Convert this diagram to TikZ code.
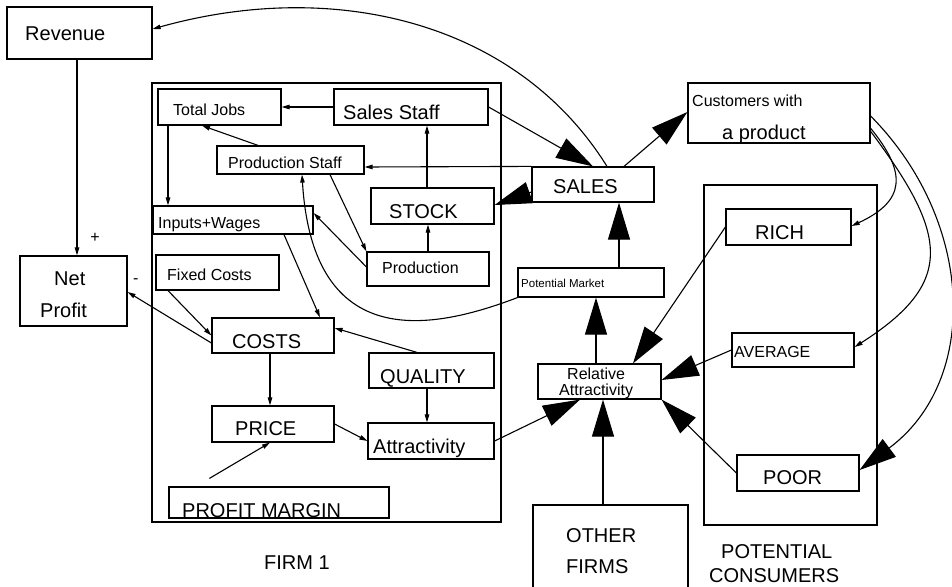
\documentclass[tikz,border=0pt]{standalone}
\usepackage{fontspec}
\setmainfont{Liberation Sans}
\usetikzlibrary{arrows.meta,calc}
\begin{document}
\begin{tikzpicture}[x=1pt,y=-1pt,
  box/.style={draw, line width=1.2pt, inner sep=0pt},
  big/.style={font=\fontsize{20}{24}\selectfont, anchor=base west, inner sep=0pt},
  mid/.style={font=\fontsize{16}{19}\selectfont, anchor=base west, inner sep=0pt},
  tiny/.style={font=\fontsize{11.5}{14}\selectfont, anchor=base west, inner sep=0pt},
  link/.style={line width=1.1pt, -{Triangle[length=8pt,width=4.5pt]}},
  flow/.style={line width=1.1pt, -{Triangle[length=37pt,width=22pt]}},
]
\useasboundingbox (0,0) rectangle (952,586);

% ---------- boxes ----------
\node[box, minimum width=145pt, minimum height=52pt] (rev)   at (79.5,33)   {};
\node[box, minimum width=107pt, minimum height=70pt] (np)    at (73.5,291)  {};
\node[box, minimum width=349pt, minimum height=439pt] (firm) at (326.5,302.5) {};
\node[box, minimum width=123pt, minimum height=36pt] (tj)    at (219.5,107) {};
\node[box, minimum width=154pt, minimum height=36pt] (ss)    at (411,107)   {};
\node[box, minimum width=147pt, minimum height=28pt] (ps)    at (290.5,160) {};
\node[box, minimum width=160pt, minimum height=28pt] (iw)    at (233,220)   {};
\node[box, minimum width=123pt, minimum height=36pt] (stock) at (432.5,206) {};
\node[box, minimum width=122pt, minimum height=34pt] (prod)  at (428,269)   {};
\node[box, minimum width=123pt, minimum height=35pt] (fc)    at (217.5,272.5) {};
\node[box, minimum width=122pt, minimum height=35pt] (costs) at (273,335.5) {};
\node[box, minimum width=125pt, minimum height=35pt] (qual)  at (431.5,370.5) {};
\node[box, minimum width=126pt, minimum height=36pt] (attr)  at (431,441)   {};
\node[box, minimum width=122pt, minimum height=36pt] (price) at (273,424)   {};
\node[box, minimum width=220pt, minimum height=31pt] (pm)    at (279,502.5) {};
\node[box, minimum width=122pt, minimum height=35pt] (sales) at (593,184.5) {};
\node[box, minimum width=182pt, minimum height=60pt] (cust)  at (779,113)   {};
\node[box, minimum width=146pt, minimum height=29pt] (potm)  at (591,282.5) {};
\node[box, minimum width=173pt, minimum height=340pt] (pc)   at (790.5,355) {};
\node[box, minimum width=125pt, minimum height=36pt] (rich)  at (788.5,227) {};
\node[box, minimum width=122pt, minimum height=34pt] (avg)   at (793,350)   {};
\node[box, minimum width=122pt, minimum height=36pt] (poor)  at (798,473)   {};
\node[box, minimum width=123pt, minimum height=35pt] (ra)    at (599.5,381.5) {};
\node[box, minimum width=155pt, minimum height=95pt] (of)    at (610.5,552.5) {};

% ---------- texts ----------
\node[big] at (25,41)  {Revenue};
\node[big] at (54,285) {Net};
\node[big] at (40,317) {Profit};
\node[mid, anchor=center] at (95,238)  {+};
\node[mid] at (133,283.5) {-};
\node[mid] at (173,115) {Total Jobs};
\node[big] at (343,119) {Sales Staff};
\node[mid] at (228,168) {Production Staff};
\node[mid] at (158,228) {Inputs+Wages};
\node[big] at (389,218) {STOCK};
\node[mid] at (382,273) {Production};
\node[mid] at (167,280) {Fixed Costs};
\node[big] at (232,348) {COSTS};
\node[big] at (380,383) {QUALITY};
\node[big] at (235,435) {PRICE};
\node[big] at (373,453) {Attractivity};
\node[big] at (182,517) {PROFIT MARGIN};
\node[big] at (264,569) {FIRM 1};
\node[big] at (553,193) {SALES};
\node[mid] at (692,106) {Customers with};
\node[big] at (722,139) {a product};
\node[tiny] at (521,287) {Potential Market};
\node[big] at (755,239) {RICH};
\node[mid] at (734,357) {AVERAGE};
\node[big] at (763,484) {POOR};
\node[mid] at (567,379) {Relative};
\node[mid] at (559,395) {Attractivity};
\node[big] at (566,542) {OTHER};
\node[big] at (566,573) {FIRMS};
\node[big] at (721,558) {POTENTIAL};
\node[big] at (709,582) {CONSUMERS};

% ---------- thin links ----------
\draw[link] ($(rev.south)+(-2.5,0)$) -- ($(np.north)+(3.5,0)$);
\draw[link] ($(costs.west)+(0,7.5)$) -- ($(np.east)+(0,1)$);
\draw[link] ($(sales.north)+(14,0)$) .. controls +(-90,-144.5) and +(182,-51) .. ($(rev.east)+(0,-4)$);
\draw[link] (ss.west) -- (tj.east);
\draw[link] ($(ps.north)+(-32.5,0)$) -- ($(tj.south)+(-17.5,0)$);
\draw[link] ($(tj.south)+(-51.5,0)$) -- ($(iw.north)+(-65,0)$);
\draw[link] ($(stock.north)+(-5.5,0)$) -- ($(ss.south)+(16,0)$);
\draw[link] (prod.north) -- ($(stock.south)+(-4.5,0)$);
\draw[link] (sales.north west) -- ($(ps.east)+(0,7)$);
\draw[link] ($(ps.south)+(39.5,0)$) -- (prod.north west);
\draw[link] ($(prod.west)+(0,-2)$) -- ($(iw.east)+(0,-7)$);
\draw[link] (potm.south west) .. controls +(-84,32) and +(11,180) .. ($(ps.south)+(11.5,0)$);
\draw[link] ($(iw.south)+(51,0)$) -- ($(costs.north)+(47,0)$);
\draw[link] ($(fc.south)+(-49.5,0)$) -- (costs.west);
\draw[link] ($(qual.north)+(-14.5,0)$) -- ($(costs.east)+(0,-7.5)$);
\draw[link] ($(qual.south)+(-4.5,0)$) -- ($(attr.north)+(-4,0)$);
\draw[link] ($(costs.south)+(-3,0)$) -- ($(price.north)+(-3,0)$);
\draw[link] (price.east) -- (attr.west);
\coordinate (pmtail) at ($(pm.north west)+(41,-8)$);
\draw[link] (pmtail) -- ($(price.south)+(-3,0)$);
\draw[link] ($(cust.east)+(-1,14)$) .. controls +(38,46) and +(54,-25) .. ($(rich.east)+(0,-1)$);
\draw[link] ($(cust.east)+(-1,17)$) .. controls +(78,104) and +(102,-65) .. ($(avg.east)+(0,-3)$);

% ---------- heavy flows ----------
\draw[flow] (ss.east) -- (sales.north);
\draw[flow] ($(sales.west)+(0,7.5)$) -- ($(stock.east)+(0,-1)$);
\draw[flow] ($(sales.north)+(31,0)$) -- ($(cust.west)+(0,-1)$);
\draw[flow] ($(potm.north)+(28,0)$) -- ($(sales.south)+(26,0)$);
\draw[flow] ($(ra.north)+(-3.5,0)$) -- ($(potm.south)+(5,0)$);
\draw[flow] (rich.west) -- ($(ra.north)+(33.5,0)$);
\draw[flow] (avg.west) -- ($(ra.east)+(0,-1.5)$);
\draw[flow] (poor.west) -- (ra.south east);
\draw[flow] (attr.east) -- ($(ra.south)+(-19.5,0)$);
\draw[flow] ($(of.north)+(-7.5,0)$) -- ($(ra.south)+(3.5,0)$);
\draw[flow] ($(cust.east)+(-1,2)$) .. controls +(105,105) and +(121,-90) .. ($(poor.east)+(0,-3)$);
\end{tikzpicture}
\end{document}
